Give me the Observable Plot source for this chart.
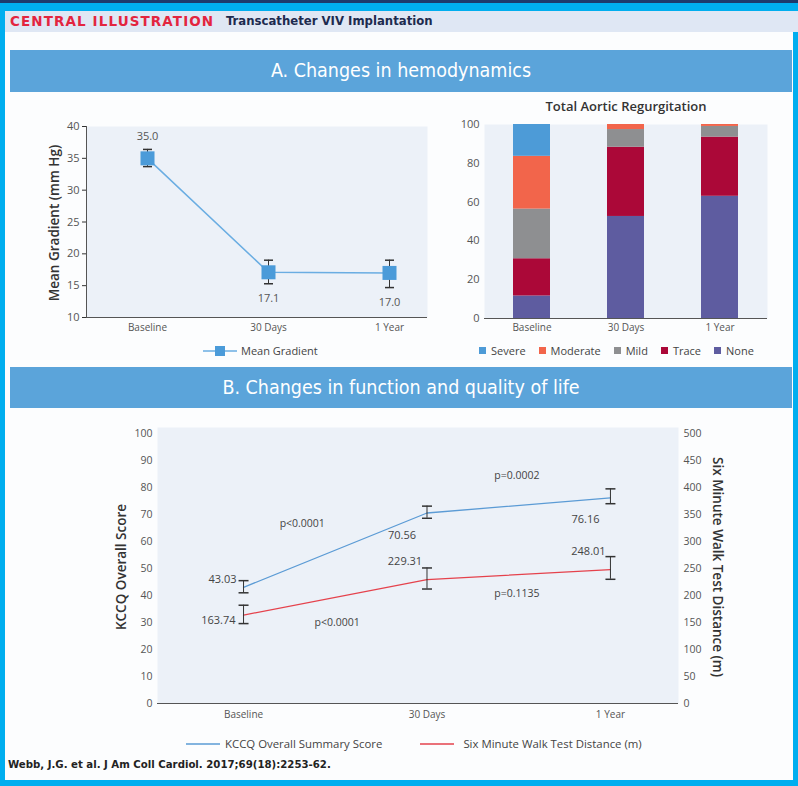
<!DOCTYPE html>
<html>
<head>
<meta charset="utf-8">
<script src="https://cdn.jsdelivr.net/npm/d3@7"></script>
<script src="https://cdn.jsdelivr.net/npm/@observablehq/plot@0.6"></script>
<style>
  html, body { margin: 0; padding: 0; background: #00aeef; }
  #page { position: relative; width: 798px; height: 786px; overflow: hidden; background: #00aeef; font-family: "Open Sans", sans-serif; }
  .abs { position: absolute; }
  #navy { left: 0; top: 0; width: 798px; height: 3px; background: #1d3a6c; }
  #white { left: 5px; top: 11px; width: 788px; height: 769px; background: #fcfdfe; }
  #hdr { left: 5px; top: 11px; width: 793px; height: 21px; background: #dfe7f4; }
  #hdr1 { left: 10px; top: 12px; font-family: "DejaVu Sans", sans-serif; font-weight: bold; font-size: 13.5px; letter-spacing: 1.1px; color: #e3253f; line-height: 18px; }
  #hdr2 { left: 226px; top: 12px; font-family: "DejaVu Sans Condensed", "DejaVu Sans", sans-serif; font-weight: bold; font-size: 13px; color: #1d2b4f; line-height: 18px; }
  .band { left: 10px; width: 782px; background: #5ba4da; color: #fff; text-align: center; font-family: "DejaVu Sans Condensed", "DejaVu Sans", sans-serif; font-size: 19.5px; }
  #bandA { top: 50px; height: 42px; line-height: 42px; }
  #bandB { top: 367px; height: 41px; line-height: 41px; }
  .ylab { font-size: 13.5px; font-weight: 600; color: #333; white-space: nowrap; }
  .legend { font-size: 11px; color: #444; display: flex; align-items: center; white-space: nowrap; }
  .sw { display: inline-block; width: 7px; height: 7px; margin-right: 5px; }
  #footer { left: 8px; top: 758px; font-family: "DejaVu Sans Condensed", "DejaVu Sans", sans-serif; font-weight: bold; font-size: 11.3px; color: #222; }
  #arTitle { left: 440px; top: 97px; width: 372px; text-align: center; font-size: 13px; font-weight: 600; color: #333; }
</style>
</head>
<body>
<div id="page">
  <div class="abs" id="navy"></div>
  <div class="abs" id="white"></div>
  <div class="abs" id="hdr"></div>
  <div class="abs" id="hdr1">CENTRAL ILLUSTRATION</div>
  <div class="abs" id="hdr2">Transcatheter VIV Implantation</div>
  <div class="abs band" id="bandA">A. Changes in hemodynamics</div>
  <div class="abs band" id="bandB">B. Changes in function and quality of life</div>
  <div class="abs" id="plotA1" style="left:30px;top:110px;"></div>
  <div class="abs" id="plotA2" style="left:440px;top:95px;"></div>
  <div class="abs" id="arTitle">Total Aortic Regurgitation</div>
  <div class="abs" id="plotB" style="left:100px;top:420px;"></div>
  <div class="abs ylab" id="labA1" style="left:54px;top:223px;transform:translate(-50%,-50%) rotate(-90deg);">Mean Gradient (mm Hg)</div>
  <div class="abs ylab" id="labB1" style="left:121px;top:567px;transform:translate(-50%,-50%) rotate(-90deg);">KCCQ Overall Score</div>
  <div class="abs ylab" id="labB2" style="left:718px;top:567px;transform:translate(-50%,-50%) rotate(90deg);">Six Minute Walk Test Distance (m)</div>
  <div class="abs legend" id="legA1" style="left:203px;top:343px;"></div>
  <div class="abs legend" id="legA2" style="left:479px;top:343px;"></div>
  <div class="abs legend" id="legB" style="left:186px;top:736px;font-size:11.4px;"></div>
  <div class="abs" id="footer">Webb, J.G. et al. J Am Coll Cardiol. 2017;69(18):2253-62.</div>
</div>
<script>
// ---------- data ----------
const timepoints = ["Baseline", "30 Days", "1 Year"];

// Panel A: mean gradient (mm Hg)
const gradientMean = [35.0, 17.1, 17.0];
const gradientLow = [33.7, 15.3, 14.7];
const gradientHigh = [36.4, 19.0, 19.0];
const gradientTicks = [10, 15, 20, 25, 30, 35, 40];

// Panel A: total aortic regurgitation (%)
const arGrades = ["None", "Trace", "Mild", "Moderate", "Severe"];
const arLegendOrder = ["Severe", "Moderate", "Mild", "Trace", "None"];
const arColors = ["#5e5ca0", "#ab0838", "#8e8f91", "#f2654b", "#4d9bd7"];
const arBaseline = [11.6, 19.2, 25.6, 27.2, 16.4];
const ar30Days = [52.6, 35.7, 9.1, 2.6, 0];
const ar1Year = [63.0, 30.5, 5.5, 1.0, 0];
const arTicks = [0, 20, 40, 60, 80, 100];

// Panel B: KCCQ and six minute walk
const kccqScore = [43.03, 70.56, 76.16];
const kccqLow = [41.0, 68.6, 74.0];
const kccqHigh = [45.5, 73.1, 79.5];
const walkDistance = [163.74, 229.31, 248.01];
const walkLow = [148, 212, 230];
const walkHigh = [182, 251, 272];
const kccqTicks = [0, 10, 20, 30, 40, 50, 60, 70, 80, 90, 100];
const walkMax = 500;
const pLabels = ["p<0.0001", "p<0.0001", "p=0.0002", "p=0.1135"];

// ---------- helpers ----------
const cap = (w) => ({ draw(ctx) { ctx.moveTo(-w, 0); ctx.lineTo(w, 0); } });
const baseStyle = { fontFamily: "Open Sans, sans-serif", fontSize: "11px", color: "#555", background: "transparent", overflow: "visible" };

// ---------- Panel A1 ----------
const gData = timepoints.map((t, i) => ({ t, i, mean: gradientMean[i], lo: gradientLow[i], hi: gradientHigh[i] }));
const plotA1 = Plot.plot({
  width: 410, height: 230,
  marginLeft: 56, marginRight: 13, marginTop: 16, marginBottom: 23,
  style: baseStyle,
  x: { type: "point", domain: timepoints, padding: 0.409, align: 0.62, label: null },
  y: { domain: [10, 40], label: null },
  marks: [
    Plot.frame({ fill: "#ecf1f8", stroke: "none" }),
    Plot.frame({ anchor: "left", stroke: "#555" }),
    Plot.axisY({ ticks: gradientTicks, tickSize: 4, tickPadding: 3, label: null, fontSize: 11, stroke: "#333" }),
    Plot.axisX({ tickSize: 0, tickPadding: 6, label: null, fontSize: 10 }),
    Plot.ruleY([10], { stroke: "#555" }),
    Plot.ruleX(gData, { x: "t", y1: "lo", y2: "hi", stroke: "#333", strokeWidth: 1 }),
    Plot.dot(gData, { x: "t", y: "lo", symbol: cap(4.5), fill: "none", stroke: "#333", r: 4 }),
    Plot.dot(gData, { x: "t", y: "hi", symbol: cap(4.5), fill: "none", stroke: "#333", r: 4 }),
    Plot.line(gData, { x: "t", y: "mean", stroke: "#6aade2", strokeWidth: 1.5 }),
    Plot.dot(gData, { x: "t", y: "mean", symbol: "square", r: 7.9, fill: "#4b9bd9", stroke: "none" }),
    Plot.text(gData.filter(d => d.i === 0), { x: "t", y: "hi", text: d => d.mean.toFixed(1), dy: -13, fill: "#555", fontSize: 11 }),
    Plot.text(gData.filter(d => d.i > 0), { x: "t", y: "lo", text: d => d.mean.toFixed(1), dy: 15, fill: "#555", fontSize: 11 })
  ]
});
document.getElementById("plotA1").append(plotA1);

// ---------- Panel A2 ----------
const arSeries = [arBaseline, ar30Days, ar1Year];
const arData = [];
timepoints.forEach((t, i) => arGrades.forEach((g, j) => arData.push({ t, grade: g, v: arSeries[i][j] })));
const plotA2 = Plot.plot({
  width: 345, height: 245,
  marginLeft: 44, marginRight: 18, marginTop: 29, marginBottom: 22,
  style: baseStyle,
  x: { type: "band", domain: timepoints, paddingInner: 0.61, paddingOuter: 0.3, label: null },
  y: { domain: [0, 100], label: null },
  color: { domain: arGrades, range: arColors },
  marks: [
    Plot.frame({ fill: "#ecf1f8", stroke: "none" }),
    Plot.axisY({ ticks: arTicks, tickSize: 0, tickPadding: 5, label: null, fontSize: 11 }),
    Plot.axisX({ tickSize: 0, tickPadding: 5, label: null, fontSize: 10 }),
    Plot.barY(arData, { x: "t", y: "v", fill: "grade" }),
    Plot.ruleY([0], { stroke: "#555" })
  ]
});
document.getElementById("plotA2").append(plotA2);

// ---------- Panel B ----------
const kData = timepoints.map((t, i) => ({ i, v: kccqScore[i], lo: kccqLow[i], hi: kccqHigh[i] }));
const wScale = 100 / walkMax;
const wData = timepoints.map((t, i) => ({ i, v: walkDistance[i], lo: walkLow[i], hi: walkHigh[i] }));
const pData = [
  { x: 0.32, y: 66.7, text: pLabels[0] },
  { x: 0.51, y: 30.0, text: pLabels[1] },
  { x: 1.49, y: 84.4, text: pLabels[2] },
  { x: 1.49, y: 40.7, text: pLabels[3] }
];
const plotB = Plot.plot({
  width: 640, height: 310,
  marginLeft: 57, marginRight: 62, marginTop: 13, marginBottom: 27,
  style: baseStyle,
  x: { domain: [-0.469, 2.371], label: null },
  y: { domain: [0, 100], label: null },
  marks: [
    Plot.frame({ fill: "#ecf1f8", stroke: "none", insetTop: -6 }),
    Plot.axisY({ anchor: "left", ticks: kccqTicks, tickSize: 0, tickPadding: 5, label: null, fontSize: 10.5 }),
    Plot.axisY({ anchor: "right", ticks: kccqTicks, tickFormat: d => d / wScale, tickSize: 0, tickPadding: 5, label: null, fontSize: 10.5 }),
    Plot.axisX({ ticks: [0, 1, 2], tickFormat: i => timepoints[i], tickSize: 0, tickPadding: 7, label: null, fontSize: 10 }),
    Plot.ruleY([0], { stroke: "#555" }),
    Plot.line(kData, { x: "i", y: "v", stroke: "#5b9bd5", strokeWidth: 1.3 }),
    Plot.line(wData, { x: "i", y: d => d.v * wScale, stroke: "#e5424c", strokeWidth: 1.3 }),
    Plot.ruleX(kData, { x: "i", y1: "lo", y2: "hi", stroke: "#333" }),
    Plot.dot(kData, { x: "i", y: "lo", symbol: cap(5), fill: "none", stroke: "#333", r: 4 }),
    Plot.dot(kData, { x: "i", y: "hi", symbol: cap(5), fill: "none", stroke: "#333", r: 4 }),
    Plot.ruleX(wData, { x: "i", y1: d => d.lo * wScale, y2: d => d.hi * wScale, stroke: "#333" }),
    Plot.dot(wData, { x: "i", y: d => d.lo * wScale, symbol: cap(5), fill: "none", stroke: "#333", r: 4 }),
    Plot.dot(wData, { x: "i", y: d => d.hi * wScale, symbol: cap(5), fill: "none", stroke: "#333", r: 4 }),
    Plot.text(kData.filter(d => d.i === 0), { x: "i", y: "v", text: d => d.v.toFixed(2), textAnchor: "end", dx: -7, dy: -8, fill: "#444", fontSize: 11 }),
    Plot.text(kData.filter(d => d.i > 0), { x: "i", y: "v", text: d => d.v.toFixed(2), dx: -25, dy: 22, fill: "#444", fontSize: 11 }),
    Plot.text(wData.filter(d => d.i === 0), { x: "i", y: d => d.v * wScale, text: d => d.v.toFixed(2), textAnchor: "end", dx: -8, dy: 5, fill: "#444", fontSize: 11 }),
    Plot.text(wData.filter(d => d.i > 0), { x: "i", y: d => d.v * wScale, text: d => d.v.toFixed(2), dx: -22, dy: -18, fill: "#444", fontSize: 11 }),
    Plot.text(pData, { x: "x", y: "y", text: "text", fill: "#444", fontSize: 10.5 })
  ]
});
document.getElementById("plotB").append(plotB);

// ---------- legends ----------
document.getElementById("legA1").innerHTML =
  `<svg width="34" height="12" style="margin-right:4px"><line x1="0" y1="6" x2="34" y2="6" stroke="#6aade2" stroke-width="1.5"/><rect x="12" y="1" width="10" height="10" fill="#4b9bd9"/></svg><span>Mean Gradient</span>`;

document.getElementById("legA2").innerHTML = arLegendOrder.map(g =>
  `<span style="display:inline-flex;align-items:center;margin-right:13px"><span class="sw" style="background:${arColors[arGrades.indexOf(g)]}"></span>${g}</span>`).join("");

document.getElementById("legB").innerHTML =
  `<svg width="34" height="10" style="margin-right:5px"><line x1="0" y1="5" x2="34" y2="5" stroke="#5b9bd5" stroke-width="1.3"/></svg><span style="margin-right:38px">KCCQ Overall Summary Score</span>` +
  `<svg width="34" height="10" style="margin-right:9px"><line x1="0" y1="5" x2="34" y2="5" stroke="#e5424c" stroke-width="1.3"/></svg><span>Six Minute Walk Test Distance (m)</span>`;
</script>
</body>
</html>
